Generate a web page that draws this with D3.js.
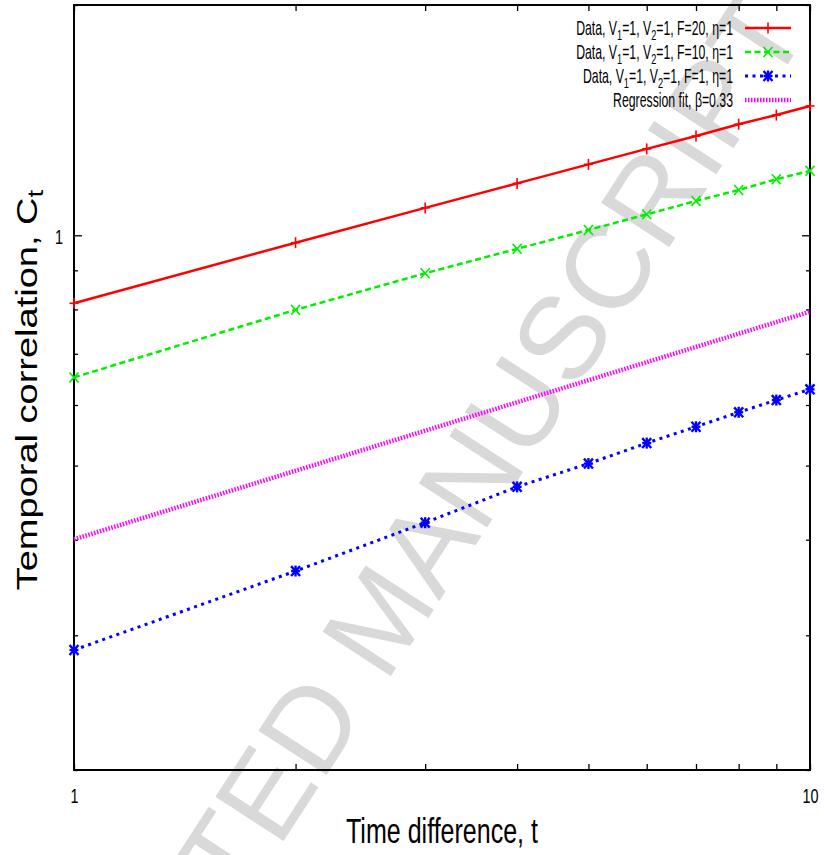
<!DOCTYPE html>
<html><head><meta charset="utf-8">
<script src="https://cdn.jsdelivr.net/npm/d3@7"></script>
<style>body{margin:0;background:#fff}svg{display:block}</style></head>
<body><svg id="c" width="824" height="855"></svg>
<script>
// ---- data ----
const tValues = [1, 2, 3, 4, 5, 6, 7, 8, 9, 10];
const corrF20 = [0.815, 0.978, 1.086, 1.169, 1.238, 1.297, 1.348, 1.397, 1.436, 1.476];
const corrF10 = [0.652, 0.799, 0.892, 0.960, 1.016, 1.065, 1.109, 1.146, 1.184, 1.214];
const corrF1  = [0.287, 0.364, 0.421, 0.469, 0.503, 0.535, 0.562, 0.587, 0.609, 0.629];
const fitT = [1, 10];
const fitC = [0.4005, 0.7946];
const xTickValues = [1, 2, 3, 4, 5, 6, 7, 8, 9, 10];
const xTickLabels = {1: "1", 10: "10"};
const yTickValues = [0.2, 0.3, 0.4, 0.5, 0.6, 0.7, 0.8, 0.9, 1, 2];
const yTickLabels = {1: "1"};
const legendF = ["20", "10", "1"];
const fitLabel = "Regression fit, β=0.33";
const xTitle = "Time difference, t";
const yTitle = "Temporal correlation, C";
const yTitleSub = "t";
const watermark = "ACCEPTED MANUSCRIPT";

// ---- layout ----
const W = 824, H = 855;
const L = 74, R = 810, T = 5, B = 770;
const svg = d3.select("#c");
const FONT = "'Liberation Sans', Arial, Helvetica, sans-serif";
const x = d3.scaleLog().domain([1, 10]).range([L, R]);
const y = d3.scaleLog().domain([0.2, 2]).range([B, T]);

svg.append("rect").attr("width", W).attr("height", H).attr("fill", "#fff");

// watermark (cut by the page edge, as in the reference)
svg.append("text")
  .attr("transform", "translate(414,640) rotate(-57)")
  .attr("text-anchor", "middle")
  .attr("font-family", FONT).attr("font-size", 118)
  .attr("fill", "#d9d9d9")
  .text(watermark);

function fitWidth(textSel, tx, ty, target) {
  const w = textSel.node().getBBox().width;
  textSel.attr("transform", `translate(${tx},${ty}) scale(${target / w},1)`);
  return target / w;
}

// axes (ticks inward, mirrored)
const kTick = 0.72;
const gx = svg.append("g").attr("transform", `translate(0,${B})`)
  .call(d3.axisBottom(x).tickValues(xTickValues).tickSizeInner(-6).tickSizeOuter(0)
        .tickFormat(d => xTickLabels[d] || ""));
const gxt = svg.append("g").attr("transform", `translate(0,${T})`)
  .call(d3.axisTop(x).tickValues(xTickValues).tickSizeInner(-6).tickSizeOuter(0).tickFormat(""));
const gy = svg.append("g").attr("transform", `translate(${L},0)`)
  .call(d3.axisLeft(y).tickValues(yTickValues).tickSizeInner(-4).tickSizeOuter(0)
        .tickFormat(d => yTickLabels[d] || ""));
const gyr = svg.append("g").attr("transform", `translate(${R},0)`)
  .call(d3.axisRight(y).tickValues(yTickValues).tickSizeInner(-4).tickSizeOuter(0).tickFormat(""));
[gx, gxt, gy, gyr].forEach(g => {
  g.select(".domain").remove();
  g.selectAll(".tick line").attr("stroke", "#000").attr("stroke-width", 1.3);
});
gy.selectAll(".tick line").attr("x2", d => d === 1 ? 8 : 4);
gyr.selectAll(".tick line").attr("x2", d => d === 1 ? -8 : -4);
gx.selectAll(".tick text").attr("y", 0).attr("dy", 0)
  .attr("font-family", FONT).attr("font-size", 20).attr("fill", "#000")
  .attr("transform", `translate(0,33) scale(${kTick},1)`);
gy.selectAll(".tick text").attr("x", 0).attr("dy", "0.35em")
  .attr("font-family", FONT).attr("font-size", 20).attr("fill", "#000")
  .attr("transform", `translate(-11,1) scale(${kTick},1)`);

// frame
svg.append("rect").attr("x", L).attr("y", T).attr("width", R - L).attr("height", B - T)
  .attr("fill", "none").attr("stroke", "#000").attr("stroke-width", 2);

// series
const series = [
  {vals: corrF20, color: "#ff0000", width: 2.5, dash: null, marker: "plus"},
  {vals: corrF10, color: "#00ee00", width: 2.5, dash: "6,3.5", marker: "cross"},
  {vals: corrF1,  color: "#0000ff", width: 3, dash: "3,4.5", marker: "star"}
];
const line = d3.line().x(d => x(d[0])).y(d => y(d[1]));

function marker(g, type, cx, cy, color) {
  const hx = 4.5, hy = 5.5;
  const segs = [];
  if (type === "plus" || type === "star") { segs.push([-hx, 0, hx, 0], [0, -hy, 0, hy]); }
  if (type === "cross" || type === "star") { segs.push([-hx, -hy * 0.9, hx, hy * 0.9], [-hx, hy * 0.9, hx, -hy * 0.9]); }
  segs.forEach(s => g.append("line")
    .attr("x1", cx + s[0]).attr("y1", cy + s[1]).attr("x2", cx + s[2]).attr("y2", cy + s[3])
    .attr("stroke", color).attr("stroke-width", type === "star" ? 2.4 : 1.6));
}

// regression fit
svg.append("path").datum(fitT.map((t, i) => [t, fitC[i]]))
  .attr("d", line).attr("fill", "none").attr("stroke", "#ff00ff")
  .attr("stroke-width", 4.5).attr("stroke-dasharray", "1.5,1.5");

series.forEach(s => {
  const pts = tValues.map((t, i) => [t, s.vals[i]]);
  svg.append("path").datum(pts).attr("d", line).attr("fill", "none")
    .attr("stroke", s.color).attr("stroke-width", s.width)
    .attr("stroke-dasharray", s.dash);
  const g = svg.append("g");
  pts.forEach(p => marker(g, s.marker, x(p[0]), y(p[1]), s.color));
});

// legend
const legY = [28, 52, 76, 100];
const lx1 = 745, lx2 = 791, textR = 733;
let kLeg = null;
function richText(parent, parts, size) {
  const t = parent.append("text").attr("text-anchor", "end")
    .attr("font-family", FONT).attr("font-size", size).attr("fill", "#000");
  let shifted = false;
  parts.forEach(p => {
    const ts = t.append("tspan").text(p.t);
    if (p.sub && !shifted) { ts.attr("dy", 5).attr("font-size", size * 0.75); shifted = true; }
    else if (!p.sub && shifted) { ts.attr("dy", -5); shifted = false; }
  });
  return t;
}
series.forEach((s, i) => {
  const parts = [{t: "Data, V"}, {t: "1", sub: true}, {t: "=1, V"}, {t: "2", sub: true},
                 {t: "=1, F=" + legendF[i] + ", η=1"}];
  const t = richText(svg, parts, 20);
  if (kLeg === null) kLeg = fitWidth(t, textR, legY[i] + 6.5, 157);
  else t.attr("transform", `translate(${textR},${legY[i] + 6.5}) scale(${kLeg},1)`);
  svg.append("line").attr("x1", lx1).attr("x2", lx2).attr("y1", legY[i]).attr("y2", legY[i])
    .attr("stroke", s.color).attr("stroke-width", s.width).attr("stroke-dasharray", s.dash);
  marker(svg, s.marker, (lx1 + lx2) / 2, legY[i], s.color);
});
{
  const t = richText(svg, [{t: fitLabel}], 20);
  t.attr("transform", `translate(${textR},${legY[3] + 6.5}) scale(${kLeg},1)`);
  svg.append("line").attr("x1", lx1).attr("x2", lx2).attr("y1", legY[3]).attr("y2", legY[3])
    .attr("stroke", "#ff00ff").attr("stroke-width", 4.5).attr("stroke-dasharray", "1.5,1.5");
}

// axis titles
const xt = svg.append("text").attr("text-anchor", "middle")
  .attr("font-family", FONT).attr("font-size", 36).attr("fill", "#000").text(xTitle);
fitWidth(xt, 442, 843, 192);

const yt = svg.append("text").attr("text-anchor", "middle")
  .attr("font-family", FONT).attr("font-size", 38).attr("fill", "#000");
yt.append("tspan").text(yTitle);
yt.append("tspan").attr("dy", 8).attr("font-size", 28).text(yTitleSub);
yt.attr("transform", "translate(37,390) rotate(-90) scale(1,0.8)");
</script></body></html>
